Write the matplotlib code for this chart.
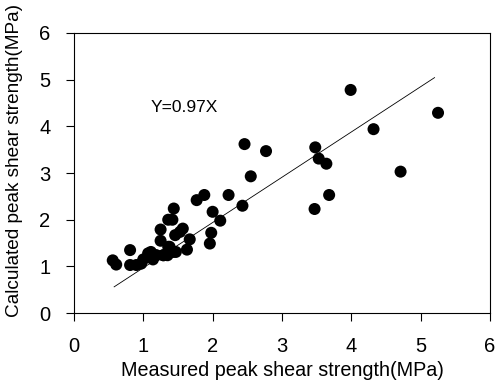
import matplotlib
matplotlib.use("Agg")
import matplotlib.pyplot as plt
import numpy as np

plt.rcParams['font.family'] = ['Liberation Sans', 'DejaVu Sans']

measured = [0.56, 0.61, 0.81, 0.81, 0.9, 0.97, 1.0, 1.07, 1.11, 1.14, 1.17, 1.19, 1.25, 1.25,
            1.29, 1.29, 1.35, 1.36, 1.36, 1.42, 1.43, 1.44, 1.38, 1.46, 1.47, 1.53, 1.57,
            1.63, 1.67, 1.77, 1.88, 1.96, 1.98, 2.0, 2.11, 2.23, 2.43, 2.46, 2.55, 2.77,
            3.47, 3.48, 3.53, 3.64, 3.68, 3.99, 4.32, 4.71, 5.25]
calculated = [1.13, 1.04, 1.35, 1.03, 1.03, 1.06, 1.15, 1.28, 1.31, 1.15, 1.24, 1.24, 1.79, 1.55,
              1.24, 1.24, 1.24, 2.0, 1.42, 2.0, 1.31, 2.24, 1.42, 1.67, 1.31, 1.74, 1.81,
              1.36, 1.58, 2.42, 2.53, 1.49, 1.72, 2.17, 1.98, 2.53, 2.30, 3.62, 2.93, 3.47,
              2.23, 3.55, 3.31, 3.20, 2.53, 4.78, 3.94, 3.03, 4.29]
slope = 0.97
fit_range = [0.58, 5.2]
ticks = [0, 1, 2, 3, 4, 5, 6]

fig = plt.figure(figsize=(4.96, 3.88), dpi=100)
ax = fig.add_axes([0.149, 0.193, 0.839, 0.722])
ax.scatter(measured, calculated, s=75, color='black', edgecolors='none', zorder=3)
xf = np.array(fit_range)
ax.plot(xf, slope * xf, color='black', lw=0.6)
ax.text(1.1, 4.41, 'Y=0.97X', fontsize=12.5, va='center', ha='left')
ax.set_xlim(0, 6)
ax.set_ylim(0, 6)
ax.set_xticks(ticks)
ax.set_yticks(ticks)
ax.tick_params(direction='out', length=6, width=0.8, labelsize=14.5)
ax.tick_params(axis='x', pad=11)
ax.tick_params(axis='y', pad=11)
ax.set_xlabel('Measured peak shear strength(MPa)', fontsize=14.2, labelpad=4)
ax.set_ylabel('Calculated peak shear strength(MPa)', fontsize=13.7)
ax.yaxis.set_label_coords(-0.122, 0.545)
for sp in ax.spines.values():
    sp.set_linewidth(0.8)
fig.savefig('out.png', dpi=100)
